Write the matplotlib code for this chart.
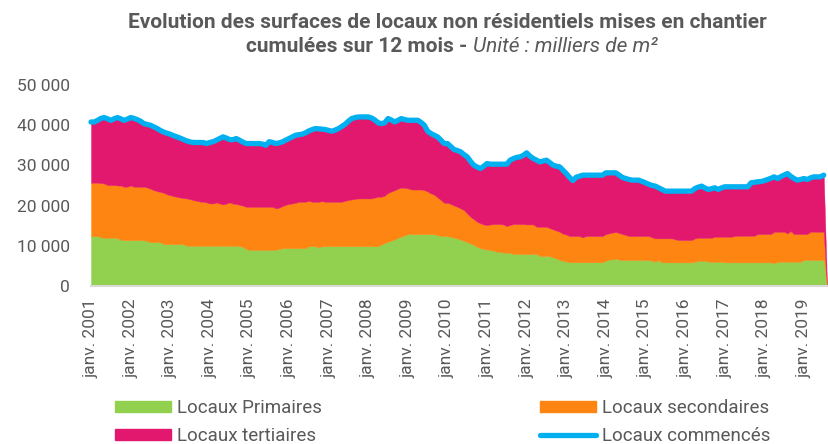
import numpy as np
import matplotlib
matplotlib.use('Agg')
import matplotlib.pyplot as plt
from matplotlib.patches import Patch
from matplotlib.lines import Line2D

plt.rcParams['font.family'] = ['Roboto', 'DejaVu Sans']

# monthly values (milliers de m2), janv. 2001 -> juil. 2019, then the empty août 2019 month
years = list(range(2001, 2020))

primaires = [
    12400, 12400, 12400, 12100, 12000, 12000, 12000, 12000, 11900, 11500, 11400, 11400,
    11400, 11400, 11400, 11400, 11400, 11200, 10900, 10900, 10900, 10900, 10400, 10400,
    10400, 10400, 10400, 10400, 10400, 10000, 10000, 10000, 10000, 10000, 10000, 10000,
    10000, 10000, 10000, 10000, 10000, 10000, 10000, 10000, 10000, 9900, 9700, 9200,
    9000, 9000, 9000, 9000, 9000, 9000, 9000, 9000, 9000, 9200, 9400, 9400,
    9400, 9400, 9400, 9400, 9400, 9400, 9900, 9900, 9900, 9600, 9900, 9900,
    9900, 9900, 9900, 9900, 9900, 9900, 9900, 9900, 9900, 9900, 9900, 9900,
    9900, 9900, 9900, 9900, 10350, 10700, 11020, 11300, 11600, 12000, 12260, 12600,
    12900, 12900, 12900, 12900, 12900, 12900, 12900, 12900, 12900, 12600, 12500, 12400,
    12420, 12200, 12000, 11850, 11500, 11260, 10900, 10600, 10200, 9770, 9400, 9200,
    9110, 8950, 8780, 8500, 8500, 8280, 8280, 8280, 7950, 7950, 7950, 7950,
    7950, 7950, 7950, 7950, 7450, 7450, 7450, 7450, 7100, 6870, 6500, 6290,
    6100, 5900, 5900, 5900, 5900, 5900, 5900, 5900, 5900, 5900, 5900, 5900,
    6290, 6600, 6600, 6870, 6460, 6460, 6460, 6460, 6460, 6460, 6460, 6460,
    6460, 6460, 6300, 6040, 6460, 5880, 5880, 5880, 5880, 5880, 5880, 5880,
    5880, 5880, 5880, 6000, 6290, 6290, 6290, 6040, 6040, 6040, 6040, 6040,
    5880, 5880, 5880, 5880, 5880, 5880, 5880, 5880, 5880, 5880, 5880, 5880,
    5880, 5880, 5880, 5630, 6040, 6040, 6040, 6040, 6040, 6040, 6040, 6040,
    6460, 6460, 6460, 6460, 6460, 6460, 6460, 0]

secondaires = [
    13300, 13300, 13300, 13500, 13500, 13100, 13100, 13100, 13100, 13500, 13300, 13300,
    13600, 13300, 13300, 13300, 13300, 13300, 13300, 12950, 12700, 12500, 12800, 12400,
    12200, 11950, 11800, 11600, 11500, 11780, 11600, 11370, 11200, 11000, 10950, 10800,
    10540, 10540, 10790, 10500, 10290, 10500, 10790, 10500, 10400, 10300, 10300, 10500,
    10700, 10700, 10700, 10700, 10700, 10700, 10700, 10700, 10300, 10300, 10470, 10800,
    11000, 11140, 11300, 11550, 11550, 11550, 11300, 11050, 11050, 11350, 11200, 11050,
    11050, 11050, 11050, 11050, 11050, 11300, 11500, 11630, 11750, 11880, 11880, 11880,
    11880, 11880, 12100, 12300, 11850, 11800, 12160, 12200, 12250, 12200, 12250, 11800,
    11400, 11110, 11100, 11100, 11100, 10950, 10600, 10120, 9800, 9430, 8900, 8300,
    8280, 8200, 8000, 7850, 7800, 7620, 7100, 6620, 6400, 6210, 6200, 6100,
    6040, 6350, 6620, 6900, 6900, 7020, 6620, 6920, 7450, 7450, 7450, 7450,
    7370, 7370, 7370, 6790, 7290, 7290, 7290, 6950, 6980, 6930, 7000, 6710,
    6700, 6520, 6520, 6520, 6520, 6190, 6520, 6520, 6520, 6520, 6520, 6520,
    6630, 6500, 6700, 6550, 6740, 6460, 6240, 5960, 5960, 5960, 5960, 5960,
    5960, 5960, 5800, 5810, 5390, 5970, 5970, 5970, 5970, 5720, 5550, 5550,
    5550, 5550, 5550, 5850, 5710, 5710, 5710, 5960, 5960, 6220, 6220, 6220,
    6380, 6380, 6380, 6520, 6620, 6620, 6620, 6620, 6620, 6620, 7040, 7040,
    7040, 7040, 7040, 7870, 7460, 7460, 7460, 7040, 7620, 6880, 6880, 6880,
    6460, 6460, 7040, 7040, 7040, 7040, 7040, 0]

tertiaires = [
    15100, 15100, 15500, 16100, 16400, 16500, 16100, 16500, 16900, 16600, 16500, 16800,
    16900, 17000, 16700, 16300, 15700, 15700, 15800, 15750, 15600, 15300, 15100, 15200,
    15160, 15050, 14900, 14800, 14530, 14320, 14250, 14330, 14490, 14700, 14740, 14640,
    15150, 15360, 15480, 16200, 16810, 16300, 15640, 15900, 16280, 16070, 15800, 15740,
    15740, 15740, 15740, 15740, 15600, 15320, 16200, 16000, 16140, 16100, 15980, 16100,
    16280, 16560, 16810, 16700, 16810, 17150, 17380, 17950, 18210, 18150, 17900, 17970,
    17750, 17550, 17850, 18210, 18750, 19040, 19600, 20120, 20250, 20280, 20280, 20280,
    20280, 20020, 19300, 18400, 18200, 18100, 18470, 17800, 16970, 17000, 17140, 17000,
    16930, 17220, 17230, 17230, 16700, 16140, 15000, 14900, 14800, 15070, 14900, 14740,
    14740, 14300, 13950, 14000, 14070, 13820, 14120, 13780, 13450, 13620, 13630, 14500,
    15320, 15000, 14900, 14900, 14900, 15000, 15400, 16100, 16300, 16600, 16720, 17100,
    17800, 16980, 16390, 16560, 16140, 16360, 16560, 16300, 15970, 16000, 16140, 15800,
    15180, 14580, 13810, 14630, 14880, 15480, 15150, 15150, 15150, 15150, 15150, 15150,
    15230, 15050, 14850, 14730, 14400, 14080, 14050, 14080, 13910, 13910, 13910, 13580,
    13250, 12880, 12900, 12990, 12580, 12150, 11750, 11750, 11750, 12000, 12170, 12170,
    12170, 12170, 12170, 12410, 12600, 12840, 12400, 12010, 12200, 12170, 11750, 12140,
    12420, 12420, 12420, 12280, 12180, 12180, 12180, 12180, 13170, 13300, 13000, 13080,
    13280, 13580, 13880, 13650, 13240, 13700, 14100, 14910, 13640, 13820, 13410, 13580,
    13820, 13580, 13400, 13650, 13650, 13650, 14070, 0]

labels = ['Locaux Primaires', 'Locaux secondaires', 'Locaux tertiaires', 'Locaux commencés']
colors = ['#92D050', '#FF8512', '#E2186F', '#00B0F0']
grey = '#595959'

g = np.array(primaires, dtype=float)
o = np.array(secondaires, dtype=float)
t = np.array(tertiaires, dtype=float)
total = g + o + t
total[-1] = np.nan  # last month not yet available
x = np.arange(len(g))

W, H = 829, 444
fig = plt.figure(figsize=(W / 100, H / 100), dpi=100)
ax = fig.add_axes([91 / W, 1 - 286 / H, (827 - 91) / W, (286 - 85) / H])

ax.fill_between(x, 0, g, color=colors[0], lw=0.3)
ax.fill_between(x, g, g + o, color=colors[1], lw=0.3)
ax.fill_between(x, g + o, g + o + t, color=colors[2], lw=0.3)
ax.plot(x, total, color=colors[3], lw=3.8, solid_capstyle='round',
        solid_joinstyle='round', clip_on=False)

ax.set_xlim(0, len(g) - 1)
ax.set_ylim(0, 50000)
ax.set_yticks(range(0, 50001, 10000))
ax.set_yticklabels([f'{v:,}'.replace(',', ' ') for v in range(0, 50001, 10000)])
ax.set_xticks(range(0, len(g), 12))
ax.set_xticklabels([f'janv. {y}' for y in years], rotation=90)
ax.tick_params(axis='both', length=0, labelsize=12.5, labelcolor=grey)
ax.tick_params(axis='y', pad=15)
ax.tick_params(axis='x', pad=9)
for s in ['left', 'right', 'top']:
    ax.spines[s].set_visible(False)
ax.spines['bottom'].set_color('#D9D9D9')
ax.spines['bottom'].set_linewidth(1.5)

fig.text(447 / W, 1 - 22 / H,
         'Evolution des surfaces de locaux non résidentiels mises en chantier',
         ha='center', va='center', fontsize=15, fontweight='bold', color=grey)
fig.text(467 / W, 1 - 47 / H, 'cumulées sur 12 mois -', ha='right', va='center',
         fontsize=15, fontweight='bold', color=grey)
fig.text(473 / W, 1 - 47 / H, 'Unité : milliers de m²', ha='left', va='center',
         fontsize=15, style='italic', color=grey)

leg_kw = dict(loc='upper left', frameon=False, fontsize=13.5, handlelength=3.0,
              handleheight=0.5, labelspacing=0.55, handletextpad=0.3,
              borderpad=0, borderaxespad=0, labelcolor=grey)
fig.legend(handles=[Patch(color=colors[0], label=labels[0]),
                    Patch(color=colors[2], label=labels[2])],
           bbox_to_anchor=(115 / W, 1 - 399 / H), **leg_kw)
fig.legend(handles=[Patch(color=colors[1], label=labels[1]),
                    Line2D([], [], color=colors[3], lw=3.8, solid_capstyle='round',
                           label=labels[3])],
           bbox_to_anchor=(540 / W, 1 - 399 / H), **leg_kw)

fig.savefig('out.png', dpi=100)
